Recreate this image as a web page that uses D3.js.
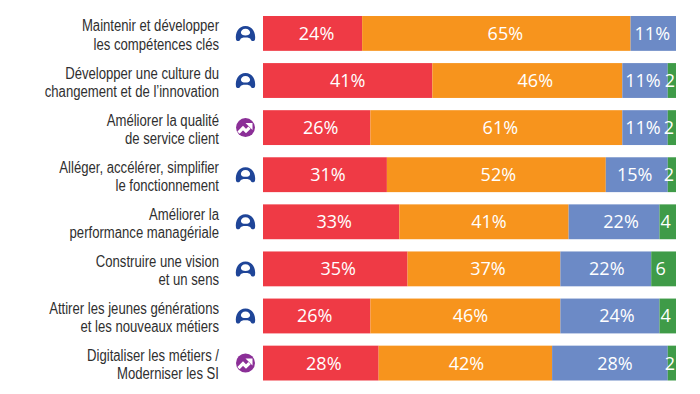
<!DOCTYPE html>
<html><head><meta charset="utf-8">
<style>html,body{margin:0;padding:0;background:#fff}svg{display:block}</style>
<script src="https://cdn.jsdelivr.net/npm/d3@7/dist/d3.min.js"></script>
</head><body><div id="c"></div>
<script>
const categories = [
  ["Maintenir et développer","les compétences clés"],
  ["Développer une culture du","changement et de l’innovation"],
  ["Améliorer la qualité","de service client"],
  ["Alléger, accélérer, simplifier","le fonctionnement"],
  ["Améliorer la","performance managériale"],
  ["Construire une vision","et un sens"],
  ["Attirer les jeunes générations","et les nouveaux métiers"],
  ["Digitaliser les métiers /","Moderniser les SI"]
];
const iconTypes = ["person","person","trend","person","person","person","person","trend"];
const seriesRed    = [24,41,26,30,33,35,26,28];
const seriesOrange = [65,46,61,53,41,37,46,42];
const seriesBlue   = [11,11,11,15,22,22,24,28];
const seriesGreen  = [0,2,2,2,4,6,4,2];
const redLabels    = ["24%","41%","26%","31%","33%","35%","26%","28%"];
const orangeLabels = ["65%","46%","61%","52%","41%","37%","46%","42%"];
const blueLabels   = ["11%","11%","11%","15%","22%","22%","24%","28%"];
const greenLabels  = ["","2","2","2","4","6","4","2"];
const colors = ["#ef3a45","#f7941d","#6c8ac6","#3f9b48"];

const W=700,H=394;
const svg=d3.select("#c").append("svg").attr("width",W).attr("height",H);
const x=d3.scaleLinear().domain([0,100]).range([263,676]);
const y=d3.scaleBand().domain(d3.range(categories.length)).range([16,380.5]).paddingInner(0.26);

const series=[seriesRed,seriesOrange,seriesBlue,seriesGreen];
const labels=[redLabels,orangeLabels,blueLabels,greenLabels];
// hand placement of the value labels inside their segments (px, per row then per series)
const labelNudge=[[4,9,-1,0],[0,8,-2,-2],[4,4,-2,-3],[3,2,-2,-3],[3,5,7,-2],[3,4,1,-3],[-2,5,7,-2],[3,1,5,-2]];
const valueFont="'Open Sans',sans-serif";
const labelScale=0.82;

categories.forEach((c,i)=>{
  let acc=0;
  series.forEach((s,k)=>{
    const v=s[i]; if(!v){return;}
    svg.append("rect").attr("x",x(acc)).attr("y",y(i)).attr("width",x(acc+v)-x(acc)).attr("height",y.bandwidth()).attr("fill",colors[k]);
    svg.append("text")
      .attr("x",x(acc+v/2)+labelNudge[i][k])
      .attr("y",y(i)+y.bandwidth()/2+6.5)
      .attr("text-anchor","middle").attr("fill","#fff")
      .attr("font-family",valueFont).attr("font-size",18)
      .text(labels[k][i]);
    acc+=v;
  });
  const cy=y(i)+y.bandwidth()/2;
  const tx=svg.append("text").attr("text-anchor","end").attr("fill","#2f2f2f")
     .attr("transform",`translate(219,0) scale(${labelScale},1)`)
     .attr("font-family","'Liberation Sans',sans-serif")
     .attr("font-size",16);
  c.forEach((ln,j)=>tx.append("tspan").attr("x",0).attr("y",cy-2+j*18.4).text(ln));
  const ic=svg.append("g").attr("transform",`translate(245.5,${cy})`);
  if(iconTypes[i]==="person"){
    ic.append("path").attr("fill","#1f4598").attr("fill-rule","evenodd")
      .attr("d","M-9.5,6 C-10.5,-1 -7,-7.5 0,-7.5 C7,-7.5 10.5,-1 9.5,6 C9,8 6,8 5.5,6.5 C4.5,4.5 3,4.2 0,4.2 C-3,4.2 -4.5,4.5 -5.5,6.5 C-6,8 -9,8 -9.5,6 Z M0,-4.6 C-2.8,-4.6 -4.6,-2.6 -4.6,-0.8 C-4.6,1.2 -2.5,2 0,2 C2.5,2 4.6,1.2 4.6,-0.8 C4.6,-2.6 2.8,-4.6 0,-4.6 Z");
  } else {
    ic.append("circle").attr("r",9.5).attr("fill","#8b2f97");
    ic.append("path").attr("fill","none").attr("stroke","#fff").attr("stroke-width",3.2)
      .attr("d","M-7,5 L-2.5,0.5 L0.5,3.5 L4,0");
    ic.append("path").attr("fill","#fff").attr("d","M0,-4.5 L7,-4.5 L7,2.5 Z");
  }
});
</script></body></html>
